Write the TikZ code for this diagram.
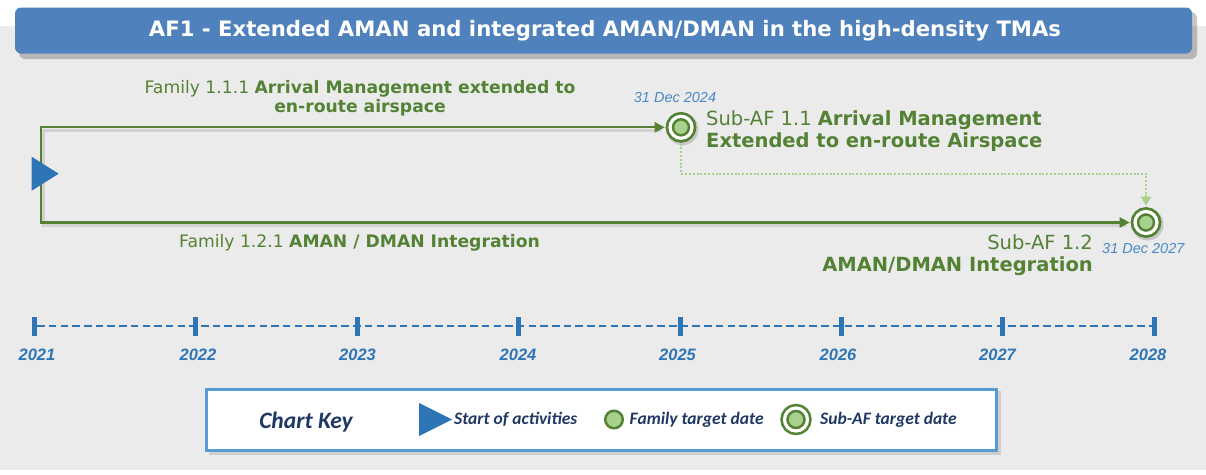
\documentclass[tikz,border=0pt]{standalone}
\usepackage{fontspec}
\setmainfont{DejaVu Sans}
\newfontfamily\arialf{Liberation Sans}
\newfontfamily\calib{Carlito}
\usetikzlibrary{arrows.meta,shapes.geometric,calc}
\definecolor{hdrblue}{HTML}{4F81BD}
\definecolor{dkgreen}{HTML}{548235}
\definecolor{ltgreen}{HTML}{A9D18E}
\definecolor{tblue}{HTML}{2E75B6}
\definecolor{dateblue}{HTML}{4A89C9}
\definecolor{keyborder}{HTML}{5B9BD5}
\definecolor{navy}{HTML}{1F3864}
\definecolor{bggrey}{HTML}{EBEBEB}
\begin{document}
\begin{tikzpicture}[x=1pt,y=-1pt,
  hdr/.style={fill=hdrblue, rounded corners=6pt, minimum width=1177pt, minimum height=46pt, inner sep=0},
  hdrtext/.style={text=white, font=\fontsize{21.2}{24}\selectfont\bfseries, inner sep=0},
  gtxt/.style={text=dkgreen, inner sep=0, font=\fontsize{17.2}{19.5}\selectfont},
  stxt/.style={text=dkgreen, inner sep=0, font=\fontsize{19.5}{22}\selectfont},
  datetxt/.style={text=dateblue, inner sep=0, font=\arialf\itshape\fontsize{14.5}{16}\selectfont},
  yeartxt/.style={text=tblue, inner sep=0, font=\arialf\bfseries\itshape\fontsize{16.5}{18}\selectfont},
  keytxt/.style={text=navy, inner sep=0, font=\calib\bfseries\itshape\fontsize{17.5}{20}\selectfont},
  subaf/.style={circle, draw=dkgreen, line width=2.6pt, double=white, double distance=3.2pt, fill=ltgreen, minimum size=22pt, inner sep=0},
  subafkey/.style={subaf, minimum size=23pt},
  fam/.style={circle, draw=dkgreen, line width=2.5pt, fill=ltgreen, minimum size=17pt, inner sep=0},
  startmark/.style={isosceles triangle, isosceles triangle stretches, fill=tblue, inner sep=0, minimum height=27pt, minimum width=34pt},
  flow/.style={draw=dkgreen, line width=2.2pt, -{Triangle[length=10pt,width=10pt]}},
  flowshadow/.style={draw=black!18, line width=3pt},
  dep/.style={draw=ltgreen, line width=1.8pt, dash pattern=on 2pt off 1.8pt, -{Triangle[length=9pt,width=10pt]}},
  tick/.style={fill=tblue, minimum width=5pt, minimum height=19pt, inner sep=0},
  timeline/.style={draw=tblue, line width=2.8pt, dash pattern=on 7.5pt off 4.2pt},
  keybox/.style={draw=keyborder, line width=3pt, fill=white, minimum width=790pt, minimum height=61pt, inner sep=0}
]
\useasboundingbox (0,0) rectangle (1206,474);
\fill[white] (0,0) rectangle (1206,474);
\fill[bggrey] (0,26) rectangle (1206,470);

% header
\fill[black, opacity=0.22, rounded corners=6pt] (19,12) rectangle (1197,59);
\node[hdr] (header) at (603.5,30.5) {};
\node[hdrtext, anchor=base] (title) at (605,36.7) {AF1 - Extended AMAN and integrated AMAN/DMAN in the high-density TMAs};

% markers
\coordinate (s) at (40.7,174);
\node[subaf] (c1) at (681,127.3) {};
\node[subaf] (c2) at (1146,222.5) {};

% shadows of flow lines
\draw[flowshadow] ($(s)+(3,3)$) |- ($(c1.west)+(-8,3)$);
\draw[flowshadow] ($(s)+(3,3)$) |- ($(c2.west)+(-8,3)$);
\fill[black, opacity=0.15] (c1.center) ++(1.5,2) circle (16pt);
\fill[black, opacity=0.15] (c2.center) ++(1.5,2) circle (16pt);

% flows
\draw[flow, shorten >=4pt] (s) |- (c1.west);
\draw[flow, shorten >=4pt] (s) |- (c2.west);
\draw[dep, shorten <=4pt, shorten >=4.5pt] (c1.south) |- ($(c1.south)+(0,34)$) -| (c2.north);
\node[subaf] at (c1) {};
\node[subaf] at (c2) {};

% start
\node[startmark, anchor=west] (start) at (31.5,173.7) {};

% texts
\node[gtxt, anchor=base, align=center] (fam111) at (360,112.5)
  {Family 1.1.1 \textbf{Arrival Management extended to}\\\textbf{en-route airspace}};
\node[gtxt, anchor=base] (fam121) at (359.5,247.5) {Family 1.2.1 \textbf{AMAN / DMAN Integration}};
\node[datetxt, anchor=base] (d1) at (675,102) {31 Dec 2024};
\node[stxt, anchor=base west, align=left] (saf11) at (706,147.5)
  {Sub-AF 1.1 \textbf{Arrival Management}\\\textbf{Extended to en-route Airspace}};
\node[stxt, anchor=base east] (saf12) at (1093,249.3) {Sub-AF 1.2};
\node[stxt, anchor=base east] (saf12b) at (1093,271.7) {\textbf{AMAN/DMAN Integration}};
\node[datetxt, anchor=base west] (d2) at (1102,253.3) {31 Dec 2027};

% timeline
\node[tick] (t1) at (34.5,326) {};
\node[tick] (t2) at (195.8,326) {};
\node[tick] (t3) at (357,326) {};
\node[tick] (t4) at (518.3,326) {};
\node[tick] (t5) at (680,326) {};
\node[tick] (t6) at (841.5,326) {};
\node[tick] (t7) at (1002.8,326) {};
\node[tick] (t8) at (1154.5,326) {};
\draw[timeline] (t1.east) -- (t8.west);
\foreach \n/\x/\y in {t1/37/2021,t2/198/2022,t3/357.5/2023,t4/518/2024,t5/677.5/2025,t6/838/2026,t7/997.5/2027,t8/1148/2028}
  \node[yeartxt, anchor=base] (y\n) at (\x,360) {\y};

% key
\fill[black, opacity=0.12] (209,391) rectangle (1001,455);
\node[keybox] (key) at (601,419.5) {};
\node[keytxt, anchor=base, font=\calib\bfseries\itshape\fontsize{23.5}{26}\selectfont] (kt) at (306,428) {Chart Key};
\node[startmark, anchor=west, minimum height=33pt, minimum width=33pt] (kstart) at (419,419.5) {};
\node[keytxt, anchor=base west] (kstartt) at (454,424.5) {Start of activities};
\node[fam, minimum size=17.5pt] (kfam) at (614,419.5) {};
\node[keytxt, anchor=base west] (kfamt) at (629.5,424.5) {Family target date};
\node[subafkey] (ksub) at (796,419.5) {};
\node[keytxt, anchor=base west] (ksubt) at (820,424.5) {Sub-AF target date};
\end{tikzpicture}
\end{document}
